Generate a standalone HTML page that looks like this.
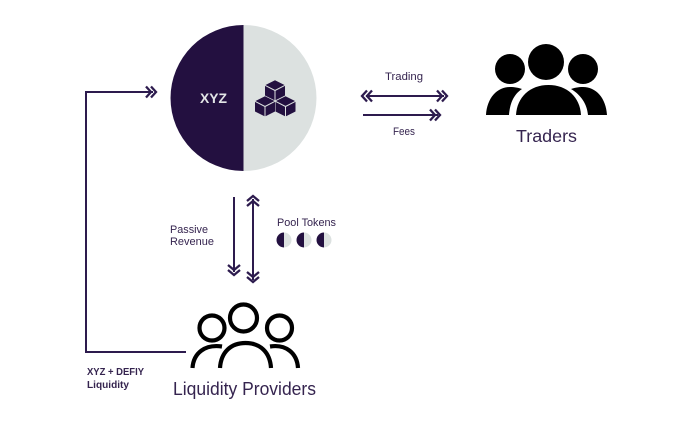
<!DOCTYPE html>
<html><head><meta charset="utf-8"><style>
html,body{margin:0;padding:0;background:#fff;width:692px;height:429px;overflow:hidden}
svg{display:block;filter:blur(.35px)}
text{font-family:"Liberation Sans",sans-serif;fill:#35244f}
</style></head><body>
<svg width="692" height="429" viewBox="0 0 692 429" xmlns="http://www.w3.org/2000/svg">
<defs>
<g id="tok"><path d="M0,-7.500A7.500,7.500 0 0 0 0,7.500Z" fill="#231040"/><path d="M0,-7.500A7.500,7.500 0 0 1 0,7.500Z" fill="#dce1e0"/></g>
<g id="cube"><path d="M0,-9.800L10,-4.700V5.500L0,10.500L-10,5.500V-4.700Z" fill="#231040"/><path d="M-10,-4.700L0,.5L10,-4.700M0,.5V10.500" fill="none" stroke="#dce1e0" stroke-width="1"/></g>
</defs>
<!-- main circle -->
<path d="M243.500,25A73,73 0 0 0 243.500,171Z" fill="#231040"/>
<path d="M243.500,25A73,73 0 0 1 243.500,171Z" fill="#dce1e0"/>
<text x="200" y="103" font-size="14" font-weight="700" textLength="27" lengthAdjust="spacingAndGlyphs" style="fill:#e2e5e6">XYZ</text>
<use href="#cube" x="275" y="90"/>
<use href="#cube" x="265" y="106"/>
<use href="#cube" x="285.500" y="106"/>
<!-- Traders icon -->
<g fill="#000">
<circle cx="546" cy="62" r="18"/><circle cx="510" cy="69" r="15"/><circle cx="583" cy="69" r="15"/>
<path d="M516,115C517,97 530,85 548.500,85C567,85 580,97 581,115Z"/>
<path d="M486,115C487,98 497,87 510,87C515,87 519,88 522,89C513,95 510,104 509,115Z"/>
<path d="M607,115C606,98 596,87 583,87C578,87 574,88 571,89C581,95 587,104 588,115Z"/>
</g>
<text x="516" y="142" font-size="17.500" textLength="61" lengthAdjust="spacingAndGlyphs">Traders</text>
<!-- Trading / fees -->
<text x="385" y="80" font-size="11" textLength="38" lengthAdjust="spacingAndGlyphs">Trading</text>
<text x="393" y="135" font-size="11" textLength="22" lengthAdjust="spacingAndGlyphs">Fees</text>
<g fill="none" stroke="#2d1b4e" stroke-width="2">
<path d="M366,96H444"/>
<path d="M363,115H438"/>
<path d="M234,197V272"/>
<path d="M253,199V280"/>
<path d="M186,352H86V92H153"/>
</g>
<g fill="none" stroke="#2d1b4e" stroke-width="2.300">
<path d="M367,90.500L362,96L367,101.500M372,90.500L367,96L372,101.500"/>
<path d="M437,90.500L442,96L437,101.500M442,90.500L447,96L442,101.500"/>
<path d="M430,109.500L435,115L430,120.500M435,109.500L440,115L435,120.500"/>
<path d="M228,265L234,270L240,265M228,270L234,275L240,270"/>
<path d="M247,201L253,196L259,201M247,206L253,201L259,206"/>
<path d="M247,272L253,277L259,272M247,277L253,282L259,277"/>
<path d="M146,86.500L151,92L146,97.500M151,86.500L156,92L151,97.500"/>
</g>
<text x="170" y="233" font-size="11" textLength="38" lengthAdjust="spacingAndGlyphs">Passive</text>
<text x="170" y="245" font-size="11" textLength="44" lengthAdjust="spacingAndGlyphs">Revenue</text>
<text x="277" y="226" font-size="11" textLength="59" lengthAdjust="spacingAndGlyphs">Pool Tokens</text>
<use href="#tok" x="284" y="240"/><use href="#tok" x="304" y="240"/><use href="#tok" x="324" y="240"/>
<!-- LP icon -->
<g fill="none" stroke="#000" stroke-width="4.200">
<circle cx="243.500" cy="318" r="13.500"/><circle cx="212" cy="328" r="12.500"/><circle cx="279.500" cy="328" r="12.500"/>
<path d="M220,368C221,352 231,343 245.500,343C260,343 270,352 271,368"/>
<path d="M192.500,368C193.500,353 205,344 222,346.500"/>
<path d="M298,368C297,353 286,344 270,346.500"/>
</g>
<text x="87" y="375" font-size="10.500" font-weight="700" textLength="57" lengthAdjust="spacingAndGlyphs">XYZ + DEFIY</text>
<text x="87" y="388" font-size="10.500" font-weight="700" textLength="42" lengthAdjust="spacingAndGlyphs">Liquidity</text>
<text x="173" y="395" font-size="18" textLength="143" lengthAdjust="spacingAndGlyphs">Liquidity Providers</text>
</svg>
</body></html>
